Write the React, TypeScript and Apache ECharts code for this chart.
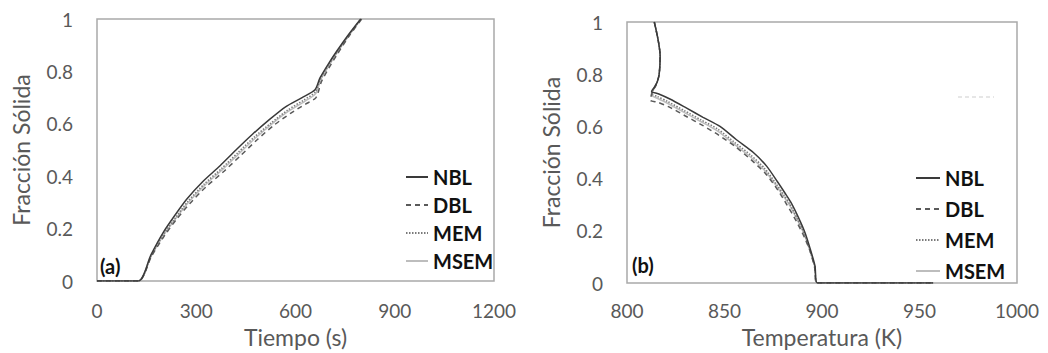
import React, { useEffect, useRef } from "react";
import * as echarts from "echarts";

// ---- Data: (a) Fracción sólida vs Tiempo (s)
const tNBL = [0, 125, 163, 200, 235, 271, 320, 372, 420, 470, 520, 570, 620, 659, 674, 700, 724, 760, 797];
const fNBL = [0, 0, 0.1, 0.185, 0.25, 0.312, 0.38, 0.44, 0.5, 0.56, 0.615, 0.665, 0.7, 0.73, 0.775, 0.83, 0.876, 0.94, 1.0];
const tDBL = [0, 125, 165, 205, 240, 280, 330, 385, 435, 485, 535, 585, 630, 662, 678, 702, 726, 762, 800];
const fDBL = [0, 0, 0.095, 0.175, 0.235, 0.295, 0.36, 0.42, 0.48, 0.54, 0.595, 0.64, 0.675, 0.7, 0.76, 0.815, 0.865, 0.935, 1.0];
const tMEM = [0, 125, 164, 202, 238, 274, 324, 377, 426, 476, 526, 576, 624, 660, 675, 701, 725, 761, 798];
const fMEM = [0, 0, 0.098, 0.18, 0.243, 0.303, 0.37, 0.43, 0.49, 0.55, 0.603, 0.652, 0.69, 0.722, 0.77, 0.826, 0.872, 0.938, 1.0];
const tMSEM = [0, 125, 164, 203, 239, 276, 326, 380, 429, 479, 529, 579, 627, 661, 676, 701, 725, 761, 799];
const fMSEM = [0, 0, 0.096, 0.178, 0.24, 0.3, 0.366, 0.426, 0.486, 0.546, 0.6, 0.648, 0.685, 0.715, 0.768, 0.822, 0.87, 0.936, 1.0];

// ---- Data: (b) Fracción sólida vs Temperatura (K)
const kNBL = [814, 816, 817, 816.5, 815.5, 814, 812.6, 816, 822, 830.6, 839, 847.7, 856, 864.8, 871.6, 877, 881, 884, 888, 891.3, 894, 896.4, 897.6, 957];
const gNBL = [1, 0.93, 0.87, 0.8, 0.77, 0.75, 0.734, 0.725, 0.705, 0.67, 0.635, 0.6, 0.55, 0.5, 0.448, 0.39, 0.345, 0.31, 0.25, 0.193, 0.13, 0.066, 0, 0];
const kDBL = [814, 816, 817, 816.5, 815, 813.5, 812.3, 812, 816, 822, 830, 839, 847, 856, 864, 871, 877, 882, 887, 891, 894, 896.2, 897.4, 957];
const gDBL = [1, 0.93, 0.87, 0.8, 0.76, 0.74, 0.715, 0.7, 0.692, 0.673, 0.64, 0.603, 0.567, 0.52, 0.47, 0.42, 0.36, 0.3, 0.235, 0.175, 0.12, 0.06, 0, 0];
const kMEM = [814, 816, 817, 816.5, 815.2, 813.8, 812.5, 815.5, 821, 829.5, 838, 846.5, 855, 863.5, 870.5, 876.5, 880.5, 883.5, 887.5, 891, 893.8, 896.3, 897.5, 957];
const gMEM = [1, 0.93, 0.87, 0.8, 0.765, 0.745, 0.725, 0.715, 0.695, 0.66, 0.625, 0.59, 0.54, 0.49, 0.44, 0.38, 0.337, 0.303, 0.244, 0.188, 0.126, 0.063, 0, 0];
const kMSEM = [814, 816, 817, 816.5, 815.1, 813.7, 812.4, 815.5, 821, 829.5, 838, 846.5, 855, 863.5, 870.5, 876.5, 880.5, 883.5, 887.5, 891, 893.8, 896.3, 897.5, 957];
const gMSEM = [1, 0.93, 0.87, 0.8, 0.763, 0.742, 0.72, 0.708, 0.688, 0.653, 0.618, 0.582, 0.532, 0.482, 0.432, 0.373, 0.33, 0.297, 0.24, 0.184, 0.123, 0.062, 0, 0];

const seriesNames = ["NBL", "DBL", "MEM", "MSEM"];

const zip = (xs: number[], ys: number[]) => xs.map((x, i) => [x, ys[i]]);

const styles: Record<string, any> = {
  NBL: { color: "#3a3a3a", type: "solid", width: 1.5 },
  DBL: { color: "#5a5a5a", type: [5, 4], width: 1.5 },
  MEM: { color: "#7a7a7a", type: [1.5, 1.5], width: 1.5 },
  MSEM: { color: "#bdbdbd", type: "solid", width: 1.5 },
};

const FONT = "Lato";
const GREY = "#595959";

export default function App() {
  const ref = useRef<HTMLDivElement>(null);
  useEffect(() => {
    if (!ref.current) return;
    const chart = echarts.init(ref.current, undefined, { renderer: "svg" });
    const dataA: Record<string, number[][]> = {
      NBL: zip(tNBL, fNBL),
      DBL: zip(tDBL, fDBL),
      MEM: zip(tMEM, fMEM),
      MSEM: zip(tMSEM, fMSEM),
    };
    const dataB: Record<string, number[][]> = {
      NBL: zip(kNBL, gNBL),
      DBL: zip(kDBL, gDBL),
      MEM: zip(kMEM, gMEM),
      MSEM: zip(kMSEM, gMSEM),
    };
    const mkSeries = (idx: number, data: Record<string, number[][]>) =>
      seriesNames
        .slice()
        .reverse()
        .map((n) => ({
          name: n,
          type: "line",
          xAxisIndex: idx,
          yAxisIndex: idx,
          symbol: "none",
          smooth: 0.25,
          data: data[n],
          lineStyle: { ...styles[n] },
          itemStyle: { color: styles[n].color },
          z: 3,
        }));

    const axisLabel = { color: GREY, fontFamily: FONT, fontSize: 19, formatter: (v: number) => String(v) };
    const nameStyle = { color: GREY, fontFamily: FONT, fontSize: 23 };
    const mkX = (idx: number, min: number, max: number, interval: number, name: string, margin: number, gap: number) => ({
      type: "value",
      gridIndex: idx,
      min,
      max,
      interval,
      name,
      nameLocation: "middle",
      nameGap: gap,
      nameTextStyle: nameStyle,
      axisLine: { show: false },
      axisTick: { show: false },
      splitLine: { show: false },
      axisLabel: { ...axisLabel, margin },
    });
    const mkY = (idx: number, gap: number) => ({
      type: "value",
      gridIndex: idx,
      min: 0,
      max: 1,
      interval: 0.2,
      name: "Fracción Sólida",
      nameLocation: "middle",
      nameGap: gap,
      nameTextStyle: nameStyle,
      axisLine: { show: false },
      axisTick: { show: false },
      splitLine: { show: false },
      axisLabel: { ...axisLabel, margin: 24 },
    });
    const legendText = { fontFamily: FONT, fontSize: 20, fontWeight: "bold", color: "#111", lineHeight: 20 };
    const legendItem = { color: "rgba(0,0,0,0)", borderColor: "rgba(0,0,0,0)", borderWidth: 0, opacity: 0 };

    chart.setOption({
      animation: false,
      backgroundColor: "#ffffff",
      grid: [
        { left: 97, top: 19, width: 397, height: 263, show: true, borderColor: "#a9a9a9", borderWidth: 1.5, backgroundColor: "transparent" },
        { left: 627, top: 22, width: 390, height: 262, show: true, borderColor: "#a9a9a9", borderWidth: 1.5, backgroundColor: "transparent" },
      ],
      xAxis: [
        mkX(0, 0, 1200, 300, "Tiempo (s)", 20, 44),
        mkX(1, 800, 1000, 50, "Temperatura (K)", 18, 39),
      ],
      yAxis: [mkY(0, 65), mkY(1, 65)],
      legend: [
        {
          data: seriesNames,
          orient: "vertical",
          left: 400,
          top: 162,
          itemWidth: 22,
          itemHeight: 14,
          itemGap: 8,
          textStyle: legendText,
          itemStyle: legendItem,
          selectedMode: false,
        },
        {
          data: seriesNames,
          orient: "vertical",
          left: 910,
          top: 163,
          itemWidth: 24,
          itemHeight: 14,
          itemGap: 11,
          textStyle: legendText,
          itemStyle: legendItem,
          selectedMode: false,
        },
      ],
      graphic: [
        { type: "text", left: 100, top: 256, style: { text: "(a)", fontFamily: FONT, fontSize: 20, fontWeight: "bold", fill: "#111" } },
        { type: "text", left: 632, top: 255, style: { text: "(b)", fontFamily: FONT, fontSize: 20, fontWeight: "bold", fill: "#111" } },
        { type: "line", shape: { x1: 958, y1: 97, x2: 994, y2: 97 }, style: { stroke: "#e6e6e6", lineWidth: 2, lineDash: [4, 3] } },
      ],
      series: [...mkSeries(0, dataA), ...mkSeries(1, dataB)],
    });
    return () => chart.dispose();
  }, []);
  return <div ref={ref} style={{ position: "absolute", left: 0, top: 0, width: 1048, height: 353 }} />;
}
